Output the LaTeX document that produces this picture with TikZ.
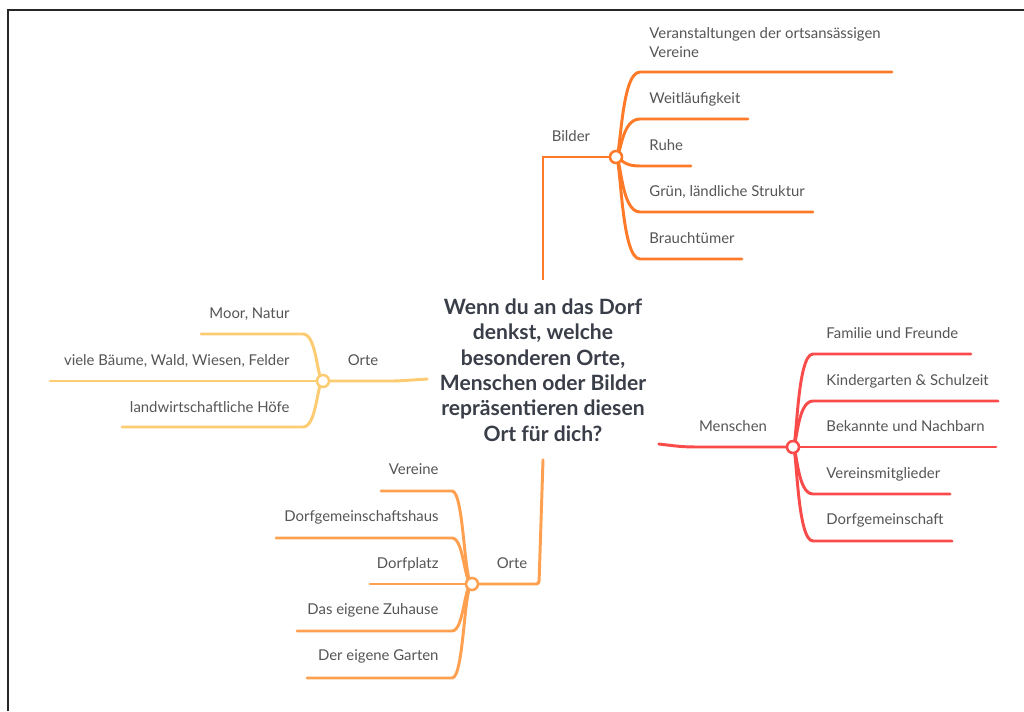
\documentclass[tikz,border=0pt]{standalone}
\usepackage{fontspec}
\setmainfont{Lato}
\usetikzlibrary{calc,backgrounds}
\definecolor{bilderfarbe}{RGB}{255,122,40}
\definecolor{menschenfarbe}{RGB}{250,75,75}
\definecolor{ortefarbe}{RGB}{253,203,114}
\definecolor{platzfarbe}{RGB}{255,160,80}
\definecolor{textfarbe}{RGB}{85,85,85}
\definecolor{fragefarbe}{RGB}{58,62,72}
\begin{document}
\begin{tikzpicture}[x=0.025cm, y=-0.025cm, line width=2.1pt, line cap=round,
  leaf/.style={text=textfarbe, font=\fontsize{10.6}{13.5}\selectfont, inner sep=0pt},
  hub/.style={circle, fill=white, minimum size=0.3cm, inner sep=0pt, line width=1.8pt},
  ast/.style={line width=2.1pt, line cap=round}]
  \useasboundingbox (0, 0) rectangle (1024, 711);
  \draw[line width=1.5pt, black!85, line cap=butt] (8, 711) -- (8, 10) -- (1024, 10);

  \node[font=\bfseries\fontsize{15}{18.1}\selectfont, text=fragefarbe, align=center, inner xsep=0.28cm, inner ysep=0.42cm] at (543, 370) (frage)
    {Wenn du an das Dorf\\denkst, welche\\besonderen Orte,\\Menschen oder Bilder\\repräsentieren diesen\\Ort für dich?};

  \node[hub, draw=bilderfarbe] at (616, 157) (bilderhub) {};
  \node[leaf] at (571, 136) (bilder) {Bilder};
  \node[leaf, anchor=west, align=left] at (648, 43) (b1) {Veranstaltungen der ortsansässigen\\Vereine};
  \node[leaf, anchor=base west] at (648, 103) (b2) {Weitläufigkeit};
  \node[leaf, anchor=base west] at (648, 150) (b3) {Ruhe};
  \node[leaf, anchor=base west] at (648, 196) (b4) {Grün, ländliche Struktur};
  \node[leaf, anchor=base west] at (648, 243) (b5) {Brauchtümer};
  \coordinate (bx) at (640, 0);
  \coordinate (b1e) at (892, 72);
  \coordinate (b2e) at (748, 119);
  \coordinate (b3e) at (691, 166);
  \coordinate (b4e) at (813, 212);
  \coordinate (b5e) at (742, 259);

  \node[hub, draw=menschenfarbe] at (793, 447) (menschenhub) {};
  \node[leaf] at (733, 426) (menschen) {Menschen};
  \node[leaf, anchor=base west] at (825, 338) (m1) {Familie und Freunde};
  \node[leaf, anchor=base west] at (825, 385) (m2) {Kindergarten \& Schulzeit};
  \node[leaf, anchor=base west] at (825, 431) (m3) {Bekannte und Nachbarn};
  \node[leaf, anchor=base west] at (825, 478) (m4) {Vereinsmitglieder};
  \node[leaf, anchor=base west] at (825, 524) (m5) {Dorfgemeinschaft};
  \coordinate (mx) at (813, 0);
  \coordinate (m1e) at (971, 354);
  \coordinate (m2e) at (998, 401);
  \coordinate (m3e) at (996, 447);
  \coordinate (m4e) at (950, 494);
  \coordinate (m5e) at (952, 541);

  \node[hub, draw=ortefarbe] at (323, 381) (ortehub) {};
  \node[leaf] at (363, 360) (orte) {Orte};
  \node[leaf, anchor=base east] at (291, 318) (o1) {Moor, Natur};
  \node[leaf, anchor=base east] at (291, 365) (o2) {viele Bäume, Wald, Wiesen, Felder};
  \node[leaf, anchor=base east] at (291, 412) (o3) {landwirtschaftliche Höfe};
  \coordinate (ox) at (303, 0);
  \coordinate (o1e) at (201, 334);
  \coordinate (o2e) at (50, 381);
  \coordinate (o3e) at (122, 427);

  \node[hub, draw=platzfarbe] at (472, 584) (platzhub) {};
  \node[leaf] at (512, 563) (plaetze) {Orte};
  \node[leaf, anchor=base east] at (440, 474) (p1) {Vereine};
  \node[leaf, anchor=base east] at (440, 521) (p2) {Dorfgemeinschaftshaus};
  \node[leaf, anchor=base east] at (440, 568) (p3) {Dorfplatz};
  \node[leaf, anchor=base east] at (440, 614) (p4) {Das eigene Zuhause};
  \node[leaf, anchor=base east] at (440, 660) (p5) {Der eigene Garten};
  \coordinate (px) at (452, 0);
  \coordinate (p1e) at (381, 491);
  \coordinate (p2e) at (276, 538);
  \coordinate (p3e) at (370, 584);
  \coordinate (p4e) at (297, 631);
  \coordinate (p5e) at (307, 678);

  \begin{scope}[on background layer]
    \draw[ast, bilderfarbe, line cap=butt] (frage.north) |- (bilderhub.center);
    \foreach \e in {b1e, b2e, b3e, b4e, b5e}
      \draw[ast, bilderfarbe] (bilderhub.center) .. controls +(5, 0) and +(-19, 0) .. (bx |- \e) -- (\e);

    \draw[ast, menschenfarbe] ($(frage.east |- menschenhub)+(0, -3)$) .. controls +(25, 3) .. (705, 447) -- (menschenhub.center);
    \foreach \e in {m1e, m2e, m3e, m4e, m5e}
      \draw[ast, menschenfarbe] (menschenhub.center) .. controls +(4, 0) and +(-16, 0) .. (mx |- \e) -- (\e);

    \draw[ast, ortefarbe] ($(frage.west |- ortehub)+(0, -2)$) .. controls +(-30, 2) .. (390, 381) -- (ortehub.center);
    \foreach \e in {o1e, o2e, o3e}
      \draw[ast, ortefarbe] (ortehub.center) .. controls +(-6, 0) and +(14, 0) .. (ox |- \e) -- (\e);

    \draw[ast, platzfarbe, rounded corners=2pt] (frage.south) -- ([xshift=-0.1cm]frage.south |- platzhub) -- (platzhub.center);
    \foreach \e in {p1e, p2e, p3e, p4e, p5e}
      \draw[ast, platzfarbe] (platzhub.center) .. controls +(-8, 0) and +(12, 0) .. (px |- \e) -- (\e);
  \end{scope}
\end{tikzpicture}
\end{document}
